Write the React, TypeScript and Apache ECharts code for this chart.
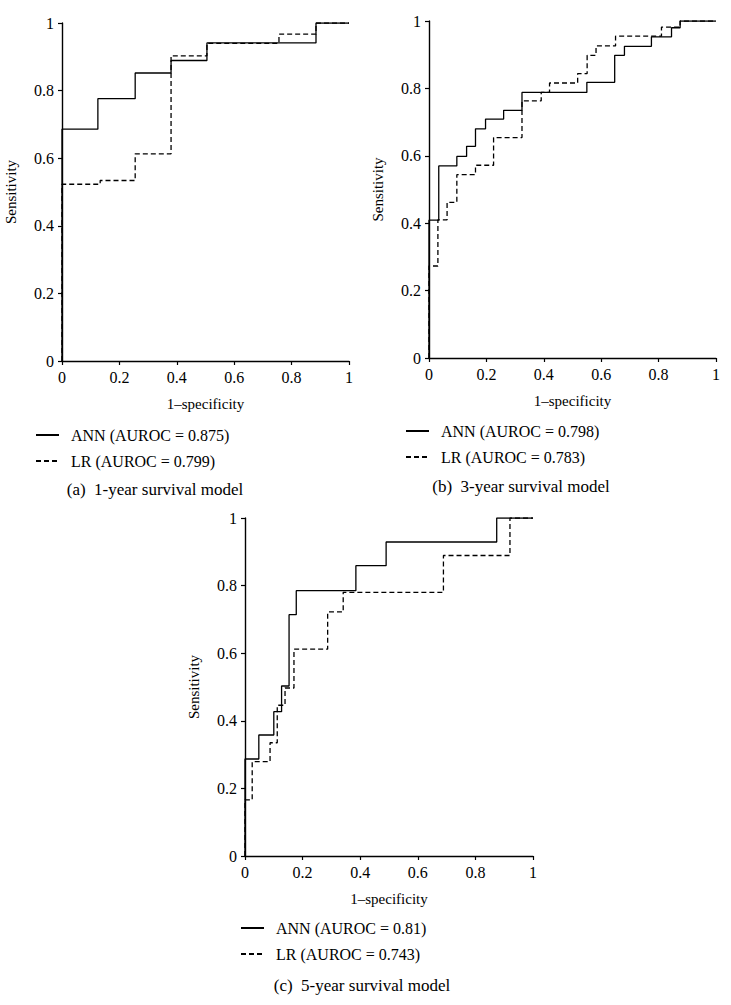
import React, { useEffect, useRef } from "react";
import * as echarts from "echarts";

// Panel (a) 1-year
const annA_x = [0, 0, 0.125, 0.255, 0.38, 0.505, 0.885, 1];
const annA_y = [0, 0.686, 0.776, 0.852, 0.889, 0.941, 1, 1];
const lrA_x = [0, 0, 0.133, 0.255, 0.38, 0.505, 0.756, 0.885, 1];
const lrA_y = [0, 0.523, 0.534, 0.613, 0.903, 0.94, 0.967, 1, 1];

// Panel (b) 3-year
const annB_x = [0, 0, 0.034, 0.097, 0.131, 0.162, 0.197, 0.26, 0.324, 0.55, 0.647, 0.681, 0.775, 0.845, 0.875, 1];
const annB_y = [0, 0.409, 0.57, 0.598, 0.628, 0.68, 0.709, 0.735, 0.788, 0.818, 0.898, 0.925, 0.953, 0.98, 1, 1];
const lrB_x = [0, 0, 0.031, 0.063, 0.097, 0.162, 0.225, 0.324, 0.391, 0.42, 0.518, 0.551, 0.582, 0.65, 0.81, 0.875, 1];
const lrB_y = [0, 0.273, 0.41, 0.462, 0.544, 0.572, 0.654, 0.763, 0.788, 0.816, 0.844, 0.898, 0.926, 0.955, 0.982, 1, 1];

// Panel (c) 5-year
const annC_x = [0, 0, 0.048, 0.1, 0.127, 0.153, 0.178, 0.385, 0.49, 0.874, 1];
const annC_y = [0, 0.287, 0.358, 0.427, 0.503, 0.714, 0.785, 0.859, 0.929, 1, 1];
const lrC_x = [0, 0, 0.025, 0.087, 0.112, 0.139, 0.17, 0.287, 0.341, 0.689, 0.92, 1];
const lrC_y = [0, 0.166, 0.279, 0.335, 0.446, 0.497, 0.612, 0.722, 0.78, 0.889, 1, 1];

const annNames = ["ANN (AUROC = 0.875)", "ANN (AUROC = 0.798)", "ANN (AUROC = 0.81)"];
const lrNames = ["LR (AUROC = 0.799)", "LR (AUROC = 0.783)", "LR (AUROC = 0.743)"];
const captions = ["(a)  1-year survival model", "(b)  3-year survival model", "(c)  5-year survival model"];
const xAxisName = "1\u2013specificity";
const yAxisName = "Sensitivity";

const FONT = "'Liberation Serif', 'DejaVu Serif', serif";

const zip = (xs: number[], ys: number[]) => xs.map((x, i) => [x, ys[i]]);

export default function App() {
  const ref = useRef<HTMLDivElement>(null);
  useEffect(() => {
    if (!ref.current) return;
    const chart = echarts.init(ref.current, undefined, { renderer: "svg" });
    const grids = [
      { left: 62, top: 23, width: 287, height: 338 },
      { left: 429, top: 21, width: 287, height: 337 },
      { left: 245, top: 518, width: 288, height: 338 },
    ];
    const legendPos = [
      { left: 35, top: 427 },
      { left: 405, top: 423 },
      { left: 240, top: 920 },
    ];
    const captionPos = [
      { x: 155, y: 489 },
      { x: 521, y: 486 },
      { x: 362, y: 985 },
    ];
    const axisLine = { show: true, lineStyle: { color: "#000", width: 1.4 } };
    const axisTick = { show: true, length: 4, lineStyle: { color: "#000", width: 1.2 } };
    const labelStyle = { color: "#000", fontFamily: FONT, fontSize: 16 };
    const data = [
      [zip(annA_x, annA_y), zip(lrA_x, lrA_y)],
      [zip(annB_x, annB_y), zip(lrB_x, lrB_y)],
      [zip(annC_x, annC_y), zip(lrC_x, lrC_y)],
    ];
    const series: any[] = [];
    data.forEach((pair, i) => {
      series.push({
        type: "line",
        name: annNames[i],
        xAxisIndex: i,
        yAxisIndex: i,
        data: pair[0],
        step: "end",
        symbol: "none",
        lineStyle: { color: "#000", width: 1.3, type: "solid" },
        itemStyle: { color: "#000" },
        z: 3,
      });
      series.push({
        type: "line",
        name: lrNames[i],
        xAxisIndex: i,
        yAxisIndex: i,
        data: pair[1],
        step: "end",
        symbol: "none",
        lineStyle: { color: "#000", width: 1.3, type: [5, 3] },
        itemStyle: { color: "#000" },
        z: 2,
      });
    });
    const option: any = {
      animation: false,
      backgroundColor: "#fff",
      grid: grids,
      xAxis: grids.map((_, i) => ({
        gridIndex: i,
        type: "value",
        min: 0,
        max: 1,
        interval: 0.2,
        name: xAxisName,
        nameLocation: "middle",
        nameGap: 35,
        nameTextStyle: { ...labelStyle, fontSize: 15 },
        axisLine,
        axisTick,
        axisLabel: { ...labelStyle, margin: 8 },
        splitLine: { show: false },
      })),
      yAxis: grids.map((_, i) => ({
        gridIndex: i,
        type: "value",
        min: 0,
        max: 1,
        interval: 0.2,
        name: yAxisName,
        nameLocation: "middle",
        nameGap: 44,
        nameRotate: 90,
        nameTextStyle: { ...labelStyle, fontSize: 15 },
        axisLine,
        axisTick,
        axisLabel: { ...labelStyle, margin: 8 },
        splitLine: { show: false },
      })),
      legend: legendPos.map((p, i) => ({
        orient: "vertical",
        left: p.left,
        top: p.top,
        itemWidth: 23,
        itemHeight: 12,
        itemGap: 10,
        padding: 0,
        selectedMode: false,
        itemStyle: { opacity: 0, color: "rgba(0,0,0,0)", borderWidth: 0 },
        data: [annNames[i], lrNames[i]],
        textStyle: { color: "#000", fontFamily: FONT, fontSize: 16, padding: [0, 0, 0, 7] },
      })),
      graphic: captions.map((c, i) => ({
        type: "text",
        x: captionPos[i].x,
        y: captionPos[i].y,
        style: {
          text: c,
          fill: "#000",
          font: `17px ${FONT}`,
          textAlign: "center",
          textVerticalAlign: "middle",
        },
      })),
      series,
    };
    chart.setOption(option);
    return () => chart.dispose();
  }, []);
  return (
    <div
      ref={ref}
      style={{ position: "absolute", left: 0, top: 0, width: 731, height: 1005 }}
    />
  );
}
